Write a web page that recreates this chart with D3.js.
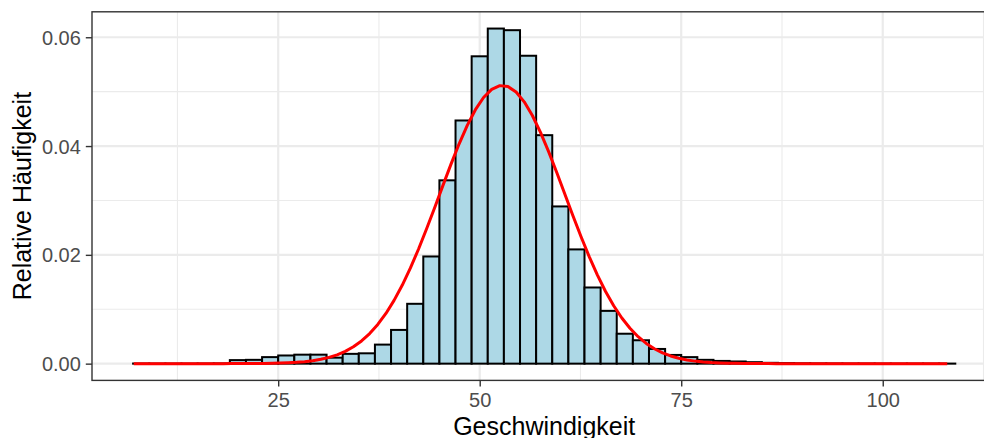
<!DOCTYPE html>
<html>
<head>
<meta charset="utf-8">
<script src="https://cdn.jsdelivr.net/npm/d3@7"></script>
<style>
  html, body { margin: 0; padding: 0; background: #fff; }
  svg { display: block; font-family: "Liberation Sans", Arial, Helvetica, sans-serif; }
</style>
</head>
<body>
<svg id="chart" width="984" height="438"></svg>
<script>
// Histogram of speeds (binwidth 2, relative frequency) with fitted normal curve
const binWidth = 2;
const binStarts = d3.range(7, 109, binWidth);   // 7, 9, ..., 107
const densities = [
  0.00002, 0.00001, 0.00001, 0.00001, 0.00002, 0.00004,          // 7 - 19
  0.00065, 0.0007, 0.0012, 0.0015, 0.00165, 0.00165, 0.0011,     // 19 - 33
  0.0018, 0.0019, 0.0035, 0.0062, 0.0110, 0.0197, 0.0337,        // 33 - 47
  0.0447, 0.0565, 0.0616, 0.0613, 0.0566, 0.0420, 0.0289,        // 47 - 61
  0.0210, 0.0140, 0.0097, 0.0055, 0.0043, 0.0027, 0.0016,        // 61 - 75
  0.0012, 0.0007, 0.0005, 0.0004, 0.00027, 0.00015, 0.0001,      // 75 - 89
  0.00006, 0.00004, 0.00003, 0.00002, 0.00002, 0.00001, 0.00001, // 89 - 103
  0.00001, 0.00001, 0.00001                                      // 103 - 109
];
const xTicks = [25, 50, 75, 100];
const xMinor = [12.5, 37.5, 62.5, 87.5, 112.5];
const yTicks = [0, 0.02, 0.04, 0.06];
const yMinor = [0.01, 0.03, 0.05];
const yTickLabels = ["0.00", "0.02", "0.04", "0.06"];

// fitted normal density: mean and sd of the speed sample
const fitMean = 52.8;
const fitSd = 7.8;
const fitRange = [7.08, 108.0];

const xLabel = "Geschwindigkeit";
const yLabel = "Relative Häufigkeit";

const bins = binStarts.map((s, i) => ({ x0: s, x1: s + binWidth, y: densities[i] }));

const svg = d3.select("#chart");

// data ranges with 5% expansion on each side
const xLo = binStarts[0], xHi = binStarts[binStarts.length - 1] + binWidth;
const xPad = (xHi - xLo) * 0.05;
const yMax = d3.max(densities);
const yPad = yMax * 0.05;

const panel = { left: 92, right: 996.4, top: 11.8, bottom: 380.4 };

const x = d3.scaleLinear().domain([xLo - xPad, xHi + xPad]).range([panel.left, panel.right]);
const y = d3.scaleLinear().domain([-yPad, yMax + yPad]).range([panel.bottom, panel.top]);

const clip = svg.append("defs").append("clipPath").attr("id", "panel-clip")
  .append("rect")
  .attr("x", panel.left).attr("y", panel.top)
  .attr("width", panel.right - panel.left).attr("height", panel.bottom - panel.top);

// grid
const grid = svg.append("g");
grid.selectAll(".ymin").data(yMinor).join("line")
  .attr("x1", panel.left).attr("x2", panel.right)
  .attr("y1", d => y(d)).attr("y2", d => y(d))
  .attr("stroke", "#EBEBEB").attr("stroke-width", 1.1);
grid.selectAll(".xmin").data(xMinor).join("line")
  .attr("y1", panel.top).attr("y2", panel.bottom)
  .attr("x1", d => x(d)).attr("x2", d => x(d))
  .attr("stroke", "#EBEBEB").attr("stroke-width", 1.1);
grid.selectAll(".ymaj").data(yTicks).join("line")
  .attr("x1", panel.left).attr("x2", panel.right)
  .attr("y1", d => y(d)).attr("y2", d => y(d))
  .attr("stroke", "#EBEBEB").attr("stroke-width", 2.2);
grid.selectAll(".xmaj").data(xTicks).join("line")
  .attr("y1", panel.top).attr("y2", panel.bottom)
  .attr("x1", d => x(d)).attr("x2", d => x(d))
  .attr("stroke", "#EBEBEB").attr("stroke-width", 2.2);

// bars
const plot = svg.append("g").attr("clip-path", "url(#panel-clip)");
plot.selectAll("rect.bar").data(bins).join("rect")
  .attr("class", "bar")
  .attr("x", d => x(d.x0))
  .attr("width", d => x(d.x1) - x(d.x0))
  .attr("y", d => y(d.y))
  .attr("height", d => y(0) - y(d.y))
  .attr("fill", "#ADD8E6")
  .attr("stroke", "#000")
  .attr("stroke-width", 2);

// normal curve
const n = 101;
const curvePts = d3.range(n).map(i => {
  const xv = fitRange[0] + (fitRange[1] - fitRange[0]) * i / (n - 1);
  const z = (xv - fitMean) / fitSd;
  return [xv, Math.exp(-0.5 * z * z) / (fitSd * Math.sqrt(2 * Math.PI))];
});
plot.append("path")
  .datum(curvePts)
  .attr("fill", "none")
  .attr("stroke", "#FF0000")
  .attr("stroke-width", 3)
  .attr("stroke-linejoin", "round")
  .attr("d", d3.line().x(d => x(d[0])).y(d => y(d[1])));

// panel border
svg.append("rect")
  .attr("x", panel.left).attr("y", panel.top)
  .attr("width", panel.right - panel.left).attr("height", panel.bottom - panel.top)
  .attr("fill", "none").attr("stroke", "#333333").attr("stroke-width", 1.4);

// axes
const xAxis = svg.append("g")
  .attr("transform", `translate(0,${panel.bottom})`)
  .call(d3.axisBottom(x).tickValues(xTicks).tickSize(6.2).tickPadding(5).tickFormat(d3.format("d")));
const yAxis = svg.append("g")
  .attr("transform", `translate(${panel.left},0)`)
  .call(d3.axisLeft(y).tickValues(yTicks).tickSize(6.2).tickPadding(5)
    .tickFormat((d, i) => yTickLabels[i]));

[xAxis, yAxis].forEach(a => {
  a.select(".domain").remove();
  a.selectAll(".tick line").attr("stroke", "#333333").attr("stroke-width", 1.4);
  a.selectAll(".tick text").attr("fill", "#4D4D4D").style("font-size", "20px")
    .style("font-family", '"Liberation Sans", Arial, sans-serif');
});
xAxis.selectAll(".tick text").attr("dy", "0.76em");
yAxis.selectAll(".tick text").attr("dy", "0.35em");

// axis titles
svg.append("text")
  .attr("x", (panel.left + panel.right) / 2)
  .attr("y", 434.5)
  .attr("text-anchor", "middle")
  .style("font-size", "25px")
  .attr("fill", "#000")
  .text(xLabel);

svg.append("text")
  .attr("transform", `translate(30.5,${(panel.top + panel.bottom) / 2}) rotate(-90)`)
  .attr("text-anchor", "middle")
  .style("font-size", "25px")
  .attr("fill", "#000")
  .text(yLabel);
</script>
</body>
</html>
